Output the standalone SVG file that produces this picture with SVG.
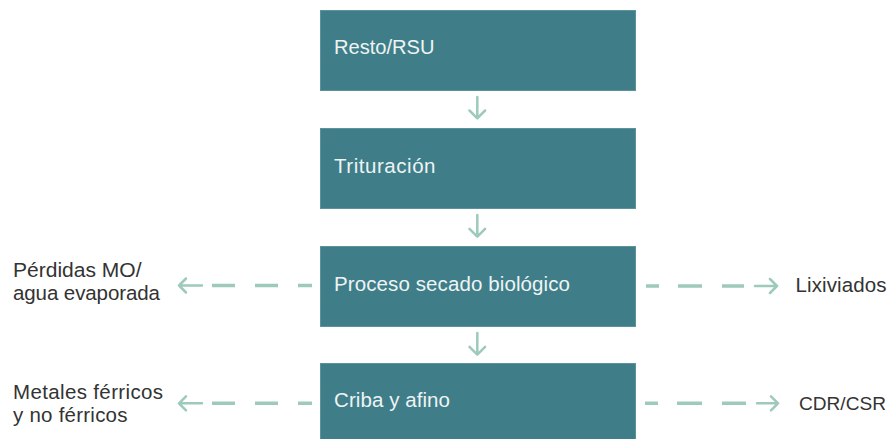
<svg xmlns="http://www.w3.org/2000/svg" width="888" height="439" viewBox="0 0 888 439">
<style>
.box{fill:#3f7e89;stroke:#5b939c;stroke-width:1}
.bt{font-family:"Liberation Sans",Arial,sans-serif;font-size:20.5px;fill:#eef4f4}
.lt{font-family:"Liberation Sans",Arial,sans-serif;font-size:20.5px;fill:#333333}
.dash{stroke:#9dcab9;stroke-width:3.6;fill:none}
.arr{stroke:#9dcab9;stroke-width:2.5;fill:none;stroke-linecap:round;stroke-linejoin:round}
</style>
<rect width="888" height="439" fill="#ffffff"/>
<g id="node-resto">
<rect class="box" x="320.5" y="10.5" width="315" height="80"/>
<text class="bt" x="334" y="54" textLength="100.5" lengthAdjust="spacingAndGlyphs">Resto/RSU</text>
</g>
<g id="node-trituracion">
<rect class="box" x="320.5" y="128.5" width="315" height="80"/>
<text class="bt" x="334" y="173" textLength="101.5" lengthAdjust="spacing">Trituración</text>
</g>
<g id="node-secado">
<rect class="box" x="320.5" y="246.5" width="315" height="80"/>
<text class="bt" x="334" y="291" textLength="236" lengthAdjust="spacing">Proceso secado biológico</text>
</g>
<g id="node-criba">
<rect class="box" x="320.5" y="363.5" width="315" height="80"/>
<text class="bt" x="334" y="407" textLength="116" lengthAdjust="spacing">Criba y afino</text>
</g>
<g id="label-perdidas">
<text class="lt" x="13" y="277" textLength="128.5" lengthAdjust="spacingAndGlyphs">Pérdidas MO/</text>
<text class="lt" x="13" y="299.5" textLength="147" lengthAdjust="spacing">agua evaporada</text>
</g>
<g id="label-metales">
<text class="lt" x="13" y="399" textLength="150" lengthAdjust="spacing">Metales férricos</text>
<text class="lt" x="13" y="422" textLength="114.5" lengthAdjust="spacing">y no férricos</text>
</g>
<g id="label-lixiviados">
<text class="lt" x="795.5" y="292" textLength="91" lengthAdjust="spacing">Lixiviados</text>
</g>
<g id="label-cdr">
<text class="lt" x="799" y="409.5" style="font-size:19px" textLength="87" lengthAdjust="spacingAndGlyphs">CDR/CSR</text>
</g>
<g id="connectors">
<path class="arr" d="M477.3 97 V118 M469.5 110.5 L477.3 118.3 L485.1 110.5"/>
<path class="arr" d="M477.3 215 V236.5 M469.5 228.8 L477.3 236.6 L485.1 228.8"/>
<path class="arr" d="M477.3 333 V354.5 M469.5 346.8 L477.3 354.6 L485.1 346.8"/>
<path class="dash" d="M312 285.5 H298 M278 285.5 H255 M235 285.5 H212"/>
<path class="arr" d="M202 285.5 H179 M186 278.5 L179 285.5 L186 292.5"/>
<path class="dash" d="M646 286 H659 M678 286 H702 M722 286 H744"/>
<path class="arr" d="M755 286 H777 M770 279 L777 286 L770 293"/>
<path class="dash" d="M312 403.3 H298 M278 403.3 H255 M235 403.3 H212"/>
<path class="arr" d="M202 403.3 H179 M186 396.3 L179 403.3 L186 410.3"/>
<path class="dash" d="M645 403.3 H658 M677 403.3 H702 M722 403.3 H746"/>
<path class="arr" d="M757 403.3 H778 M771 396.3 L778 403.3 L771 410.3"/>
</g>
</svg>
